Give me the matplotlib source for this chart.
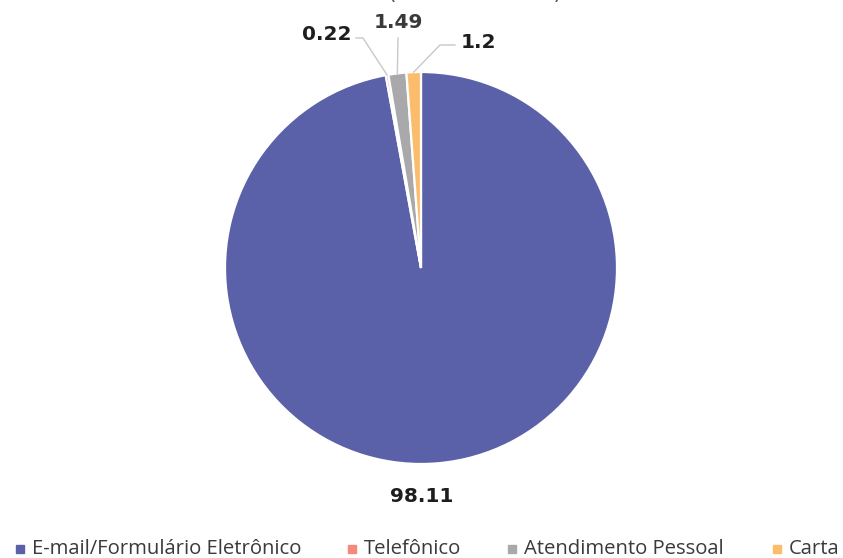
import matplotlib.pyplot as plt
import numpy as np

labels = ['E-mail/Formulário Eletrônico', 'Telefônico', 'Atendimento Pessoal', 'Carta']
values = [98.11, 0.22, 1.49, 1.2]
value_text = ['98.11', '0.22', '1.49', '1.2']
colors = ['#5a61a8', '#f4897c', '#a9a9ab', '#fbbd6c']

W, H = 843, 558
fig = plt.figure(figsize=(W / 100, H / 100), dpi=100)
ax = fig.add_axes([0, 0, 1, 1])

cx, cy, r = 421, H - 268, 196
wedges, _ = ax.pie(values, colors=colors, startangle=90, counterclock=False,
                   center=(cx, cy), radius=r,
                   wedgeprops=dict(edgecolor='white', linewidth=1.6))
ax.set_xlim(0, W)
ax.set_ylim(0, H)
ax.set_aspect('equal')
ax.axis('off')

# partly cut-off title at the top
ax.text(475, H + 1, '(' + ' ' * 22 + ')', ha='center',
        va='baseline', fontsize=16, color='#555555', clip_on=False)

# data labels
lab_pos = {0: (422, H - 497), 1: (327, H - 35), 2: (398, H - 22), 3: (478, H - 42)}
elbow = {1: (363, H - 38), 2: None, 3: (440, H - 45)}
line_end = {1: (356, H - 38), 2: (398, H - 38), 3: (455, H - 45)}
for i, w in enumerate(wedges):
    tx, ty = lab_pos[i]
    ax.text(tx, ty, value_text[i], ha='center', va='center', fontsize=14.5,
            fontweight='heavy', color='#1e1e1e' if i != 2 else '#3a3a3a')
    if i == 0:
        continue
    ang = np.deg2rad((w.theta1 + w.theta2) / 2)
    px, py = cx + r * np.cos(ang), cy + r * np.sin(ang)
    xs, ys = [line_end[i][0]], [line_end[i][1]]
    if elbow[i] is not None:
        xs.append(elbow[i][0])
        ys.append(elbow[i][1])
    xs.append(px)
    ys.append(py)
    ax.plot(xs, ys, color='#c8c8c8', lw=1.0)

# legend along the bottom
leg_x = [20, 352, 512, 777]
leg_y = H - 549
for x, lab, c in zip(leg_x, labels, colors):
    ax.plot(x, leg_y, marker='s', ms=5.5, color=c, ls='', clip_on=False)
    ax.text(x + 12, leg_y, lab, ha='left', va='center', fontsize=14.6,
            family='Open Sans', color='#3a3a3a')

fig.savefig('out.png', dpi=100)
